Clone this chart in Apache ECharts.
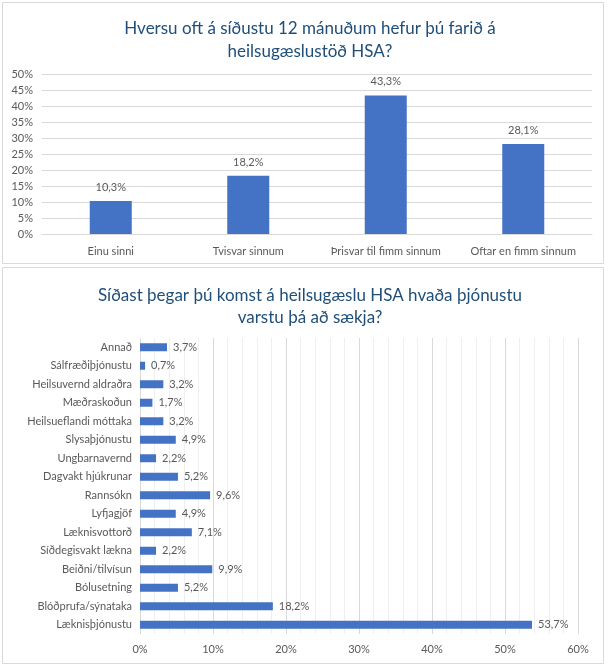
<!DOCTYPE html>
<html><head><meta charset="utf-8">
<script src="https://cdn.jsdelivr.net/npm/echarts@6/dist/echarts.min.js"></script>
<style>html,body{margin:0;padding:0;background:#fff}#c{width:611px;height:668px}</style>
</head><body><div id="c"></div>
<script>
const title1 = "Hversu oft á síðustu 12 mánuðum hefur þú farið á\nheilsugæslustöð HSA?";
const cats1 = ["Einu sinni", "Tvisvar sinnum", "Þrisvar til fimm sinnum", "Oftar en fimm sinnum"];
const vals1 = [10.3, 18.2, 43.3, 28.1];

const title2 = "Síðast þegar þú komst á heilsugæslu HSA hvaða þjónustu\nvarstu þá að sækja?";
const cats2 = ["Annað", "Sálfræðiþjónustu", "Heilsuvernd aldraðra", "Mæðraskoðun", "Heilsueflandi móttaka", "Slysaþjónustu", "Ungbarnavernd", "Dagvakt hjúkrunar", "Rannsókn", "Lyfjagjöf", "Læknisvottorð", "Síðdegisvakt lækna", "Beiðni/tilvísun", "Bólusetning", "Blóðprufa/sýnataka", "Læknisþjónustu"];
const vals2 = [3.7, 0.7, 3.2, 1.7, 3.2, 4.9, 2.2, 5.2, 9.6, 4.9, 7.1, 2.2, 9.9, 5.2, 18.2, 53.7];

const FONT = "Lato";
const TXT = "#595959";
const BLUE = "#4472C4";
const pct = v => (v + "").replace(".", ",") + "%";
const fmt1 = v => v.toFixed(1).replace(".", ",") + "%";

const chart = echarts.init(document.getElementById('c'));
chart.setOption({
  animation: false,
  textStyle: { fontFamily: FONT },
  graphic: [
    { type: 'rect', shape: { x: 2.5, y: 2.5, width: 601, height: 261 }, style: { fill: 'none', stroke: '#d9d9d9', lineWidth: 1 } },
    { type: 'rect', shape: { x: 2.5, y: 267.5, width: 601, height: 396 }, style: { fill: 'none', stroke: '#d9d9d9', lineWidth: 1 } }
  ],
  title: [
    { text: title1, left: 305, textAlign: 'center', top: 12, textStyle: { fontFamily: FONT, fontSize: 17, fontWeight: 'normal', color: '#1F4E79', lineHeight: 23 } },
    { text: title2, left: 305, textAlign: 'center', top: 280, textStyle: { fontFamily: FONT, fontSize: 17, fontWeight: 'normal', color: '#1F4E79', lineHeight: 22 } }
  ],
  grid: [
    { left: 42, right: 19, top: 74, bottom: 434, containLabel: false },
    { left: 140, right: 33, top: 338, bottom: 34, containLabel: false }
  ],
  xAxis: [
    { type: 'category', gridIndex: 0, data: cats1,
      axisLine: { lineStyle: { color: '#d9d9d9' } }, axisTick: { show: false },
      axisLabel: { color: TXT, fontSize: 11, fontFamily: FONT, margin: 12, interval: 0 } },
    { type: 'value', gridIndex: 1, min: 0, max: 60, interval: 10,
      axisLine: { show: false }, axisTick: { show: false },
      axisLabel: { color: TXT, fontSize: 11, fontFamily: FONT, margin: 10, formatter: v => v + '%' },
      splitLine: { show: true, lineStyle: { color: '#d9d9d9' } },
      minorTick: { show: false, splitNumber: 5 },
      minorSplitLine: { show: true, lineStyle: { color: '#efefef' } } }
  ],
  yAxis: [
    { type: 'value', gridIndex: 0, min: 0, max: 50, interval: 5,
      axisLine: { show: false }, axisTick: { show: false },
      axisLabel: { color: TXT, fontSize: 11, fontFamily: FONT, margin: 9, formatter: v => v + '%' },
      splitLine: { lineStyle: { color: '#d9d9d9' } } },
    { type: 'category', gridIndex: 1, data: cats2, inverse: true,
      axisLine: { show: false }, axisTick: { show: false },
      axisLabel: { color: TXT, fontSize: 11, fontFamily: FONT, margin: 8, interval: 0 } }
  ],
  series: [
    { type: 'bar', xAxisIndex: 0, yAxisIndex: 0, data: vals1, barWidth: 42,
      itemStyle: { color: BLUE },
      label: { show: true, position: 'top', distance: 8, color: TXT, fontSize: 11, fontFamily: FONT, formatter: p => fmt1(p.value) } },
    { type: 'bar', xAxisIndex: 1, yAxisIndex: 1, data: vals2, barWidth: 8,
      itemStyle: { color: BLUE },
      label: { show: true, position: 'right', distance: 6, color: TXT, fontSize: 11, fontFamily: FONT, formatter: p => fmt1(p.value) } }
  ]
});
</script></body></html>
